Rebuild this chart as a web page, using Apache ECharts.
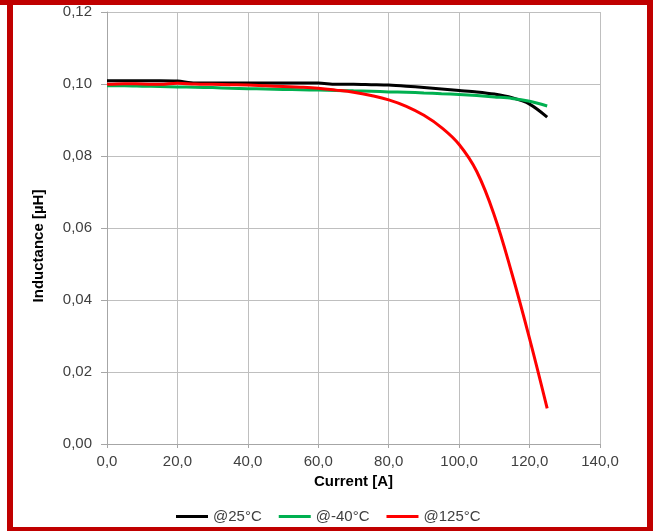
<!DOCTYPE html>
<html>
<head>
<meta charset="utf-8">
<script src="https://cdn.jsdelivr.net/npm/echarts@6/dist/echarts.min.js"></script>
<style>
html,body{margin:0;padding:0;background:#fff;}
#c{width:653px;height:531px;}
</style>
</head>
<body>
<div id="c"></div>
<script>
var current = [0,5,10,15,20,25,30,35,40,45,50,55,60,65,70,75,80,85,90,95,100,105,110,115,120,125];
var ind25 = [0.1009,0.1009,0.1009,0.1009,0.1008,0.1003,0.1003,0.1003,0.1003,0.1003,0.1003,0.1003,0.1003,0.0999,0.0999,0.0998,0.0997,0.0994,0.0990,0.0986,0.0982,0.0978,0.0972,0.0962,0.0944,0.0908];
var indM40 = [0.0995,0.0995,0.0994,0.0993,0.0992,0.0991,0.0990,0.0988,0.0987,0.0986,0.0985,0.0984,0.0983,0.0982,0.0981,0.0980,0.0978,0.0977,0.0975,0.0973,0.0971,0.0968,0.0964,0.0960,0.0952,0.0939];
var ind125 = [0.0999,0.1001,0.1000,0.0999,0.1002,0.1000,0.0999,0.0998,0.0997,0.0995,0.0993,0.0991,0.0988,0.0983,0.0977,0.0968,0.0956,0.0938,0.0913,0.0879,0.0832,0.0757,0.0635,0.0473,0.0293,0.0099];
var seriesNames = ['@25°C','@-40°C','@125°C'];
var xTicks = [0,20,40,60,80,100,120,140];
var yTicks = [0,0.02,0.04,0.06,0.08,0.10,0.12];

function pairs(xs, ys){ return xs.map(function(x,i){ return [x, ys[i]]; }); }

var chart = echarts.init(document.getElementById('c'), null, {renderer:'canvas'});
var labelStyle = {color:'#404040', fontSize:15, fontFamily:'Liberation Sans, Arial, sans-serif'};
var option = {
  backgroundColor:'#ffffff',
  animation:false,
  grid:{left:107, right:53, top:12, bottom:87},
  xAxis:{
    type:'value', min:xTicks[0], max:xTicks[xTicks.length-1], interval:20,
    name:'Current [A]', nameLocation:'middle', nameGap:28,
    nameTextStyle:{color:'#000', fontSize:15, fontWeight:'bold', fontFamily:'Liberation Sans, Arial, sans-serif'},
    axisLine:{show:true, lineStyle:{color:'#a6a6a6', width:1}},
    axisTick:{show:true, length:4, lineStyle:{color:'#a6a6a6'}},
    axisLabel:Object.assign({margin:10, formatter:function(v){return v.toFixed(1).replace('.',',');}}, labelStyle),
    splitLine:{show:true, lineStyle:{color:'#bfbfbf', width:1}}
  },
  yAxis:{
    type:'value', min:yTicks[0], max:yTicks[yTicks.length-1], interval:0.02,
    name:'Inductance [µH]', nameLocation:'middle', nameGap:61, nameRotate:90,
    nameTextStyle:{color:'#000', fontSize:15, fontWeight:'bold', fontFamily:'Liberation Sans, Arial, sans-serif', padding:[0,36,0,0]},
    axisLine:{show:true, lineStyle:{color:'#a6a6a6', width:1}},
    axisTick:{show:true, length:6, lineStyle:{color:'#a6a6a6'}},
    axisLabel:Object.assign({margin:15, formatter:function(v){return v.toFixed(2).replace('.',',');}}, labelStyle),
    splitLine:{show:true, lineStyle:{color:'#bfbfbf', width:1}}
  },
  legend:{
    left:171, top:504, icon:'rect', itemWidth:32, itemHeight:3, itemGap:17,
    textStyle:{color:'#404040', fontSize:15, fontFamily:'Liberation Sans, Arial, sans-serif'},
    data:seriesNames
  },
  graphic:[
    {type:'rect', shape:{x:0,y:0,width:653,height:5}, style:{fill:'#c00000'}, z:100},
    {type:'rect', shape:{x:7,y:0,width:6,height:531}, style:{fill:'#c00000'}, z:100},
    {type:'rect', shape:{x:647,y:0,width:6,height:531}, style:{fill:'#c00000'}, z:100},
    {type:'rect', shape:{x:7,y:527,width:646,height:4}, style:{fill:'#c00000'}, z:100}
  ],
  series:[
    {name:seriesNames[0], type:'line', data:pairs(current, ind25), showSymbol:false, smooth:0.3, lineStyle:{color:'#000000', width:3}, itemStyle:{color:'#000000'}, z:3},
    {name:seriesNames[1], type:'line', data:pairs(current, indM40), showSymbol:false, smooth:0.3, lineStyle:{color:'#00b050', width:3}, itemStyle:{color:'#00b050'}, z:4},
    {name:seriesNames[2], type:'line', data:pairs(current, ind125), showSymbol:false, smooth:0.4, lineStyle:{color:'#ff0000', width:3}, itemStyle:{color:'#ff0000'}, z:5}
  ]
};
chart.setOption(option);
</script>
</body>
</html>
